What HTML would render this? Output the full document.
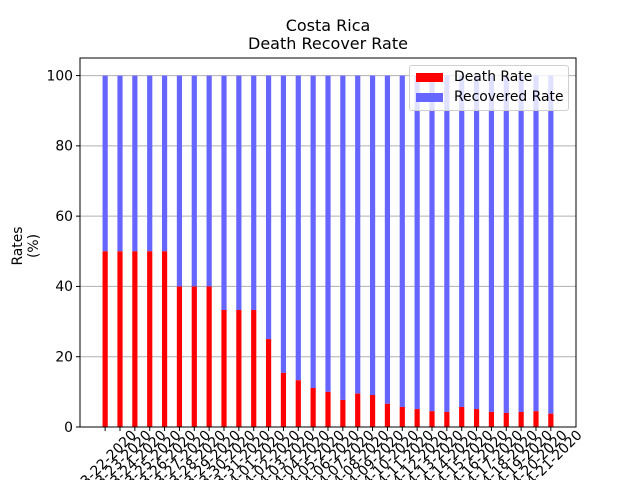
<!DOCTYPE html>
<html><head><meta charset="utf-8"><style>body{margin:0;background:#fff}svg{display:block;font-family:"DejaVu Sans","Liberation Sans",sans-serif}</style></head>
<body>
<svg id="c" width="640" height="480"></svg>
<script>
const categories = [];
for (let d=22; d<=31; d++) categories.push('03-'+d+'-2020');
for (let d=1; d<=21; d++) categories.push('04-'+String(d).padStart(2,'0')+'-2020');
const deathRate = [50,50,50,50,50,40,40,40,33.3,33.3,33.3,25,15.4,13.3,11.1,10,7.7,9.5,9.1,6.6,5.7,5.1,4.5,4.3,5.7,5.1,4.3,4.0,4.3,4.5,3.8];
const yTicks = [0,20,40,60,80,100];
const NS='http://www.w3.org/2000/svg', svg=document.getElementById('c');
const L=80,R=576,T=58,B=427;
const xmin=-1.6925, xmax=categories.length-1+1.6925;
const X=v=>L+(v-xmin)/(xmax-xmin)*(R-L);
const Y=v=>B-(v/105)*(B-T);
function el(t,a,txt){const e=document.createElementNS(NS,t);for(const k in a)e.setAttribute(k,a[k]);if(txt!=null)e.textContent=txt;svg.appendChild(e);return e;}
yTicks.forEach(t=>{
 const g=el('line',{x1:L,x2:R,y1:Y(t),y2:Y(t),stroke:'#b0b0b0','stroke-width':1});
 
 
 const tk=el('line',{x1:L-4,x2:L,y1:Y(t),y2:Y(t),stroke:'#000'});
 
 
 const lb=el('text',{x:L-7,y:Y(t)+4.8,'text-anchor':'end','font-size':13.9},String(t));
 
 
});
const bw=0.35*(R-L)/(xmax-xmin);
categories.forEach((c,i)=>{
 const x=X(i), d=deathRate[i];
 const rb=el('rect',{x:x-bw/2,y:Y(100),width:bw,height:Y(d)-Y(100),fill:'#6666ff'});
 
 
 const db=el('rect',{x:x-bw/2,y:Y(d),width:bw,height:B-Y(d),fill:'#ff0000'});
 
 
 const tk=el('line',{x1:x,x2:x,y1:B,y2:B+4,stroke:'#000'});
 
 
 const cy=B+34;
 const lb=el('text',{x:x,y:cy+4.8,'text-anchor':'middle','font-size':13.9,transform:`rotate(-45 ${x} ${cy})`},c);
 
 
});
const ax=el('rect',{x:L,y:T,width:R-L,height:B-T,fill:'none',stroke:'#000','stroke-width':1});


</script>
<div style="position:absolute;left:0;top:0;width:640px;height:480px;pointer-events:none;font-family:'DejaVu Sans','Liberation Sans',sans-serif">
 <div style="position:absolute;left:0;width:656px;top:17px;text-align:center;font-size:16px;line-height:18px">Costa Rica<br>Death Recover Rate</div>
 <div style="position:absolute;left:-14px;top:230px;width:80px;text-align:center;font-size:13.9px;line-height:16px;transform:rotate(-90deg)">Rates<br>(%)</div>
 <div style="position:absolute;left:409px;top:65px;width:158px;height:44px;border:1px solid #d0d0d0;border-radius:3px;background:rgba(255,255,255,0.8);font-size:13.9px">
  <div style="position:absolute;left:6px;top:3px;white-space:nowrap"><span style="display:inline-block;width:27px;height:9px;background:#f00;vertical-align:-1px;margin-right:11px"></span>Death Rate</div>
  <div style="position:absolute;left:6px;top:23px;white-space:nowrap"><span style="display:inline-block;width:27px;height:9px;background:#6666ff;vertical-align:-1px;margin-right:11px"></span>Recovered Rate</div>
 </div>
</div>
</body></html>
